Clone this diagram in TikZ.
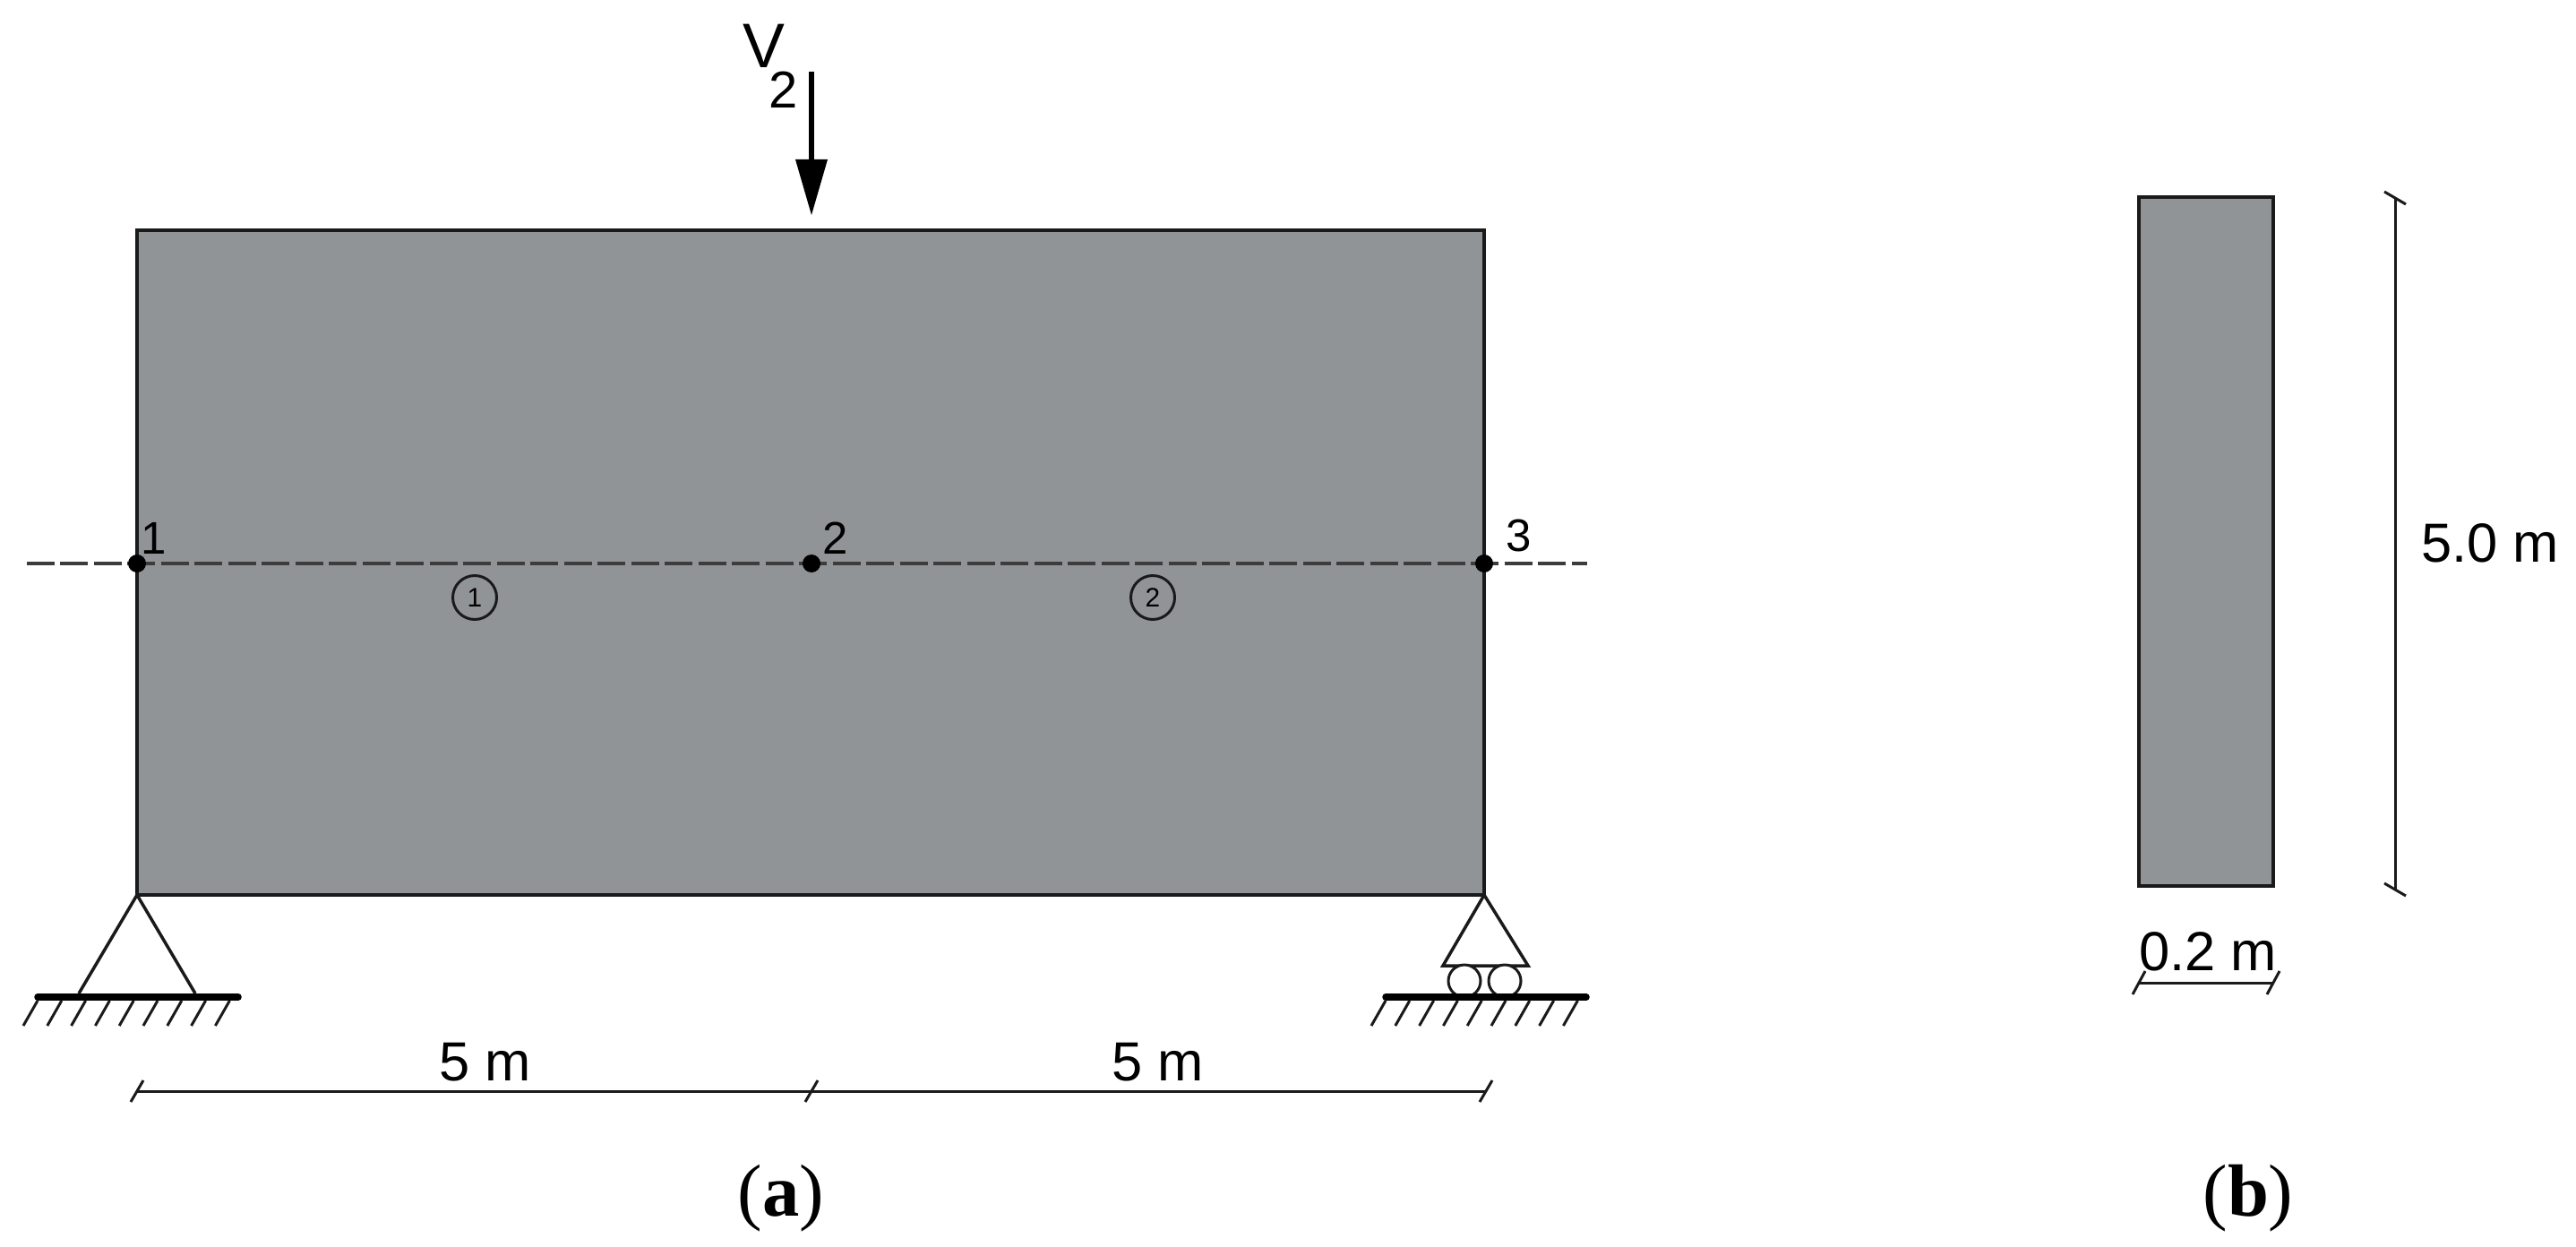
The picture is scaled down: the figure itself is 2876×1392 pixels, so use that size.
\documentclass[tikz,border=0pt]{standalone}
\usepackage{fontspec}
\setmainfont{Liberation Sans}
\newfontfamily\capfont{Liberation Serif}
\usetikzlibrary{calc}
\definecolor{wall}{HTML}{919497}
\definecolor{ink}{HTML}{1A1A1A}
\newcommand{\fs}[1]{\fontsize{#1}{#1}\selectfont}
\tikzset{
  x=0.02cm,y=-0.02cm,
  outline/.style={draw=ink,line width=0.07cm},
  thinline/.style={draw=ink,line width=0.06cm},
  wallbox/.style={outline,fill=wall},
  groundbar/.style={draw=black,line width=0.15cm,line cap=round},
  hatchline/.style={draw=ink,line width=0.06cm},
  axisline/.style={draw=ink!85!white,line width=0.08cm,dash pattern=on 0.62cm off 0.13cm},
  joint/.style={circle,fill=black,inner sep=0pt,minimum size=0.4cm},
  memberring/.style={circle,draw=ink,line width=0.06cm,inner sep=0pt,minimum size=0.98cm,font=\fs{17}},
  lbl/.style={inner sep=0pt,text=black,anchor=base},
  captiontext/.style={inner sep=0pt,text=black,anchor=base,font=\capfont\fs{47}},
  ticksign/.style={draw=ink,line width=0.06cm},
  rollerwheel/.style={circle,draw=ink,line width=0.06cm,fill=white,inner sep=0pt,minimum size=0.72cm},
}
\begin{document}
\begin{tikzpicture}
\useasboundingbox (0,0) rectangle (2876,1392);
\fill[white] (0,0) rectangle (2876,1392);

% main wall
\coordinate (tl) at (153,257);
\coordinate (br) at (1657,999);
\path[wallbox] (tl) rectangle (br);
\coordinate (bl) at (153,999);

% axis
\coordinate (axl) at (30,629);
\coordinate (axr) at (1772,629);
\draw[axisline] (axl) -- (axr);
\node[joint] (n1) at (153,629) {};
\node[joint] (n2) at (906,629) {};
\node[joint] (n3) at (1657,629) {};
\node[lbl,font=\fs{29}] (t1) at (172,618) {1};
\node[lbl,font=\fs{29}] (t2) at (933,618) {2};
\node[lbl,font=\fs{29}] (t3) at (1696,615) {3};
\node[memberring] (m1) at (530,667) {1};
\node[memberring] (m2) at (1287,667) {2};

% load
\coordinate (loadtop) at (906,80);
\coordinate (loadbase) at (906,180);
\coordinate (loadtip) at (906,240);
\draw[draw=black,line width=0.12cm] (loadtop) -- (loadbase);
\fill[black] (888,178) -- (924,178) -- (loadtip) -- cycle;
\node[lbl,font=\fs{40}] (v) at (853,76) {V};
\node[lbl,font=\fs{33}] (vsub) at (875,121) {2};

% left support
\coordinate (lsa) at (88,1109);
\coordinate (lsb) at (218,1109);
\draw[outline] (lsa) -- (bl) -- (lsb);
\draw[groundbar] (42,1113) -- (266,1113);
\foreach \i in {0,...,8}
  \draw[hatchline] ({42+26.8*\i},1117) -- ({26+26.8*\i},1145);

% right support
\coordinate (rsa) at (1611,1078);
\coordinate (rsb) at (1706,1078);
\draw[outline,fill=white] (rsa) -- (br) -- (rsb) -- cycle;
\node[rollerwheel] (r1) at (1635,1095) {};
\node[rollerwheel] (r2) at (1680,1095) {};
\draw[groundbar] (1547,1113) -- (1771,1113);
\foreach \i in {0,...,8}
  \draw[hatchline] ({1547+26.8*\i},1117) -- ({1531+26.8*\i},1145);

% horizontal dimension a
\coordinate (da) at (153,1218);
\coordinate (db) at (906,1218);
\coordinate (dc) at (1659,1218);
\draw[thinline] (da) -- (db) -- (dc);
\foreach \c in {da,db,dc}
  \draw[ticksign] ($(\c)+(-7,12)$) -- ($(\c)+(7,-12)$);
\node[lbl,font=\fs{35}] (d1) at (542,1206) {5 m};
\node[lbl,font=\fs{35}] (d2) at (1293,1206) {5 m};

% section b
\path[wallbox] (2388,220) rectangle (2538,989);
\coordinate (vt) at (2674,221);
\coordinate (vb) at (2674,993);
\draw[thinline] (vt) -- (vb);
\foreach \c in {vt,vb}
  \draw[ticksign] ($(\c)+(-12,-7)$) -- ($(\c)+(12,7)$);
\node[lbl,font=\fs{35}] (d3) at (2780,627) {5.0 m};
\coordinate (wl) at (2388,1097);
\coordinate (wr) at (2538,1097);
\draw[thinline] (wl) -- (wr);
\foreach \c in {wl,wr}
  \draw[ticksign] ($(\c)+(-7,13)$) -- ($(\c)+(7,-13)$);
\node[lbl,font=\fs{35}] (d4) at (2465,1083) {0.2 m};

% captions
\node[captiontext] (ca) at (872,1357) {(\textbf{a})};
\node[captiontext] (cb) at (2510,1357) {(\textbf{b})};
\end{tikzpicture}
\end{document}
